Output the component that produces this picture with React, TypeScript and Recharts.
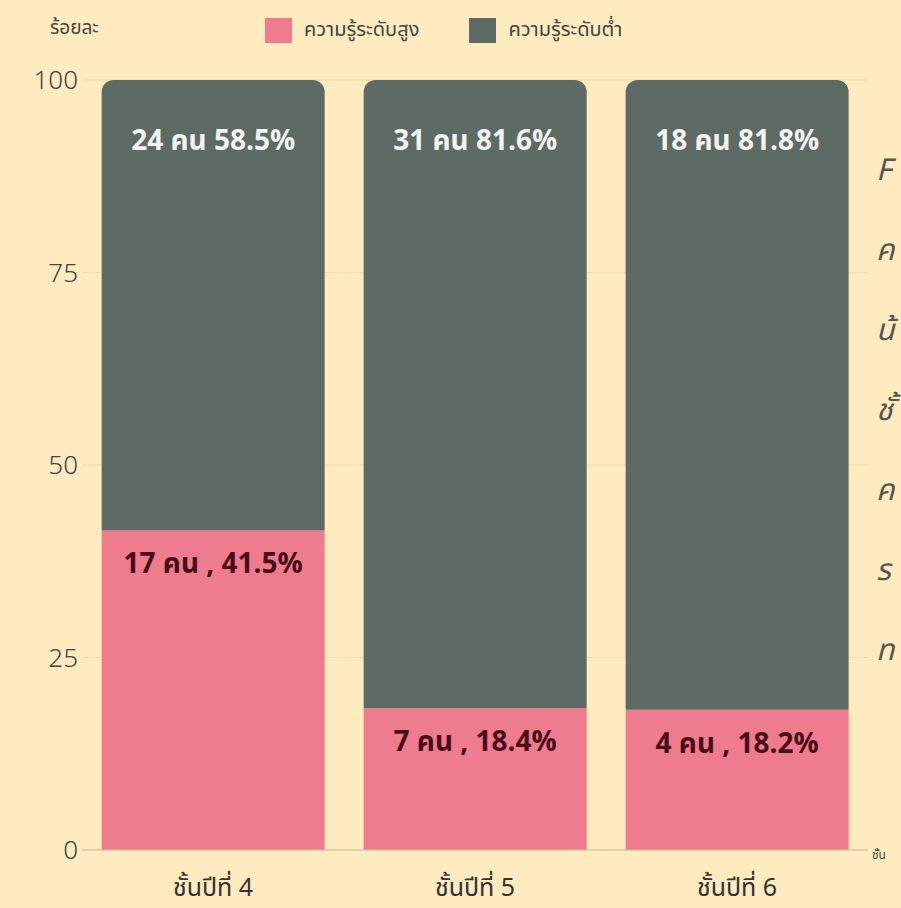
import React from "react";
import { BarChart, Bar, XAxis, YAxis, CartesianGrid, LabelList } from "recharts";

const grades = ["ชั้นปีที่ 4", "ชั้นปีที่ 5", "ชั้นปีที่ 6"];
const highCount = [17, 7, 4];
const highPct = [41.5, 18.4, 18.2];
const lowCount = [24, 31, 18];
const lowPct = [58.5, 81.6, 81.8];
const yTicks = [0, 25, 50, 75, 100];
// only the first letters of the side note show at the picture's right edge
const sideLines = ["F", "ค", "น้", "ชั้", "ค", "ร", "ท"];

const data = grades.map((g, i) => ({
  grade: g,
  high: highPct[i],
  low: lowPct[i],
  highLabel: `${highCount[i]} คน , ${highPct[i]}%`,
  lowLabel: `${lowCount[i]} คน ${lowPct[i]}%`,
}));

const BG = "#feebbf";
const PINK = "#ef7b8e";
const DARK = "#5e6a64";
const FONT = "'Noto Sans Thai', 'Noto Sans', 'DejaVu Sans', sans-serif";

const renderLowLabel = (props: any) => {
  const { x, y, width, value } = props;
  return (
    <text x={x + width / 2} y={y + 70} textAnchor="middle" fill="#f2f4f2"
      fontSize={28} fontWeight={700} fontFamily={FONT}>
      {value}
    </text>
  );
};

const renderHighLabel = (props: any) => {
  const { x, y, width, value } = props;
  return (
    <text x={x + width / 2} y={y + 43} textAnchor="middle" fill="#4a0d18"
      fontSize={28} fontWeight={700} fontFamily={FONT}>
      {value}
    </text>
  );
};

export default function App() {
  return (
    <div style={{ position: "absolute", left: 0, top: 0, width: 901, height: 908, overflow: "hidden", background: BG, fontFamily: FONT }}>
      <div style={{ position: "absolute", left: 50, top: 14, fontSize: 19, color: "#444" }}>ร้อยละ</div>
      <div style={{ position: "absolute", left: 265, top: 15, display: "flex", alignItems: "center", fontSize: 20, color: "#444" }}>
        <span style={{ width: 27, height: 25, background: PINK, display: "inline-block", marginRight: 12 }} />
        <span>ความรู้ระดับสูง</span>
        <span style={{ width: 27, height: 25, background: DARK, display: "inline-block", marginLeft: 50, marginRight: 12 }} />
        <span>ความรู้ระดับต่ำ</span>
      </div>
      {sideLines.map((t, i) => (
        <div key={i} style={{ position: "absolute", left: 876, top: 148 + i * 80, fontSize: 30, fontStyle: "italic", color: "#555", whiteSpace: "nowrap" }}>{t}</div>
      ))}
      <div style={{ position: "absolute", left: 872, top: 846, fontSize: 12, color: "#444", whiteSpace: "nowrap" }}>ชั้น</div>
      <BarChart width={901} height={908} data={data} margin={{ top: 80, right: 33, bottom: 0, left: 0 }} barCategoryGap="7.5%">
        <CartesianGrid horizontal vertical={false} stroke="#ecdcae" />
        <XAxis dataKey="grade" axisLine={{ stroke: "#cdbf96" }} tickLine={false} height={58} tickMargin={22}
          tick={{ fontSize: 25, fill: "#333", fontFamily: FONT }} />
        <YAxis domain={[0, 100]} ticks={yTicks} axisLine={false} tickLine={false} width={82} tickSize={0} tickMargin={4}
          tick={{ fontSize: 26, fill: "#444", fontFamily: FONT, fontWeight: 300 }} />
        <Bar dataKey="high" stackId="a" fill={PINK} isAnimationActive={false}>
          <LabelList dataKey="highLabel" content={renderHighLabel} />
        </Bar>
        <Bar dataKey="low" stackId="a" fill={DARK} radius={[12, 12, 0, 0]} isAnimationActive={false}>
          <LabelList dataKey="lowLabel" content={renderLowLabel} />
        </Bar>
      </BarChart>
    </div>
  );
}
